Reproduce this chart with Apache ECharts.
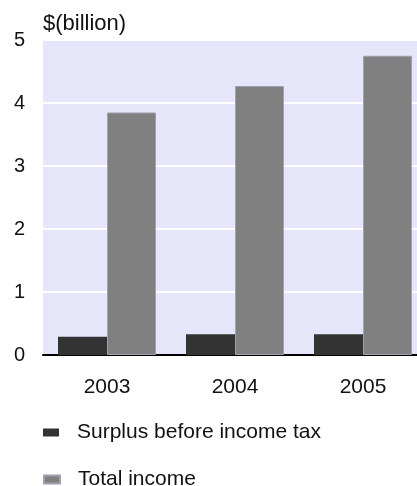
<!DOCTYPE html>
<html>
<head>
<meta charset="utf-8">
<script src="https://cdn.jsdelivr.net/npm/echarts@6/dist/echarts.min.js"></script>
<style>html,body{margin:0;padding:0;background:#fff;}#c{width:417px;height:486px;}</style>
</head>
<body>
<div id="c"></div>
<script>
var categories = ['2003', '2004', '2005'];
var surplus = [0.29, 0.33, 0.33];
var totalIncome = [3.85, 4.27, 4.75];
var yTicks = [0, 1, 2, 3, 4, 5];
var unitLabel = '$(billion)';
var seriesNames = ['Surplus before income tax', 'Total income'];

var font = '"Liberation Sans", Arial, sans-serif';
var legendText = { fontFamily: font, fontSize: 21, color: '#111', padding: [0, 0, 0, 13] };
var chart = echarts.init(document.getElementById('c'));
chart.setOption({
  animation: false,
  backgroundColor: '#ffffff',
  textStyle: { fontFamily: font },
  title: {
    text: unitLabel, left: 38, top: 8,
    textStyle: { fontFamily: font, fontSize: 22, fontWeight: 'normal', color: '#111' }
  },
  grid: { left: 43, top: 40, width: 384, bottom: 131, backgroundColor: '#e6e6fa', show: true, borderWidth: 0,
          containLabel: false, outerBoundsMode: 'none' },
  legend: [
    { orient: 'vertical', left: 38, top: 417, itemWidth: 16, itemHeight: 8, icon: 'rect',
      textStyle: legendText, data: [seriesNames[0]] },
    { orient: 'vertical', left: 38, top: 464, itemWidth: 16, itemHeight: 8, icon: 'rect',
      textStyle: legendText, data: [seriesNames[1]] }
  ],
  xAxis: {
    type: 'category', data: categories,
    axisLine: { lineStyle: { color: '#000', width: 2 } },
    axisTick: { show: false },
    axisLabel: { fontFamily: font, fontSize: 21, color: '#111', margin: 22 }
  },
  yAxis: {
    type: 'value', min: yTicks[0], max: yTicks[yTicks.length - 1], interval: 1,
    axisLine: { show: false }, axisTick: { show: false },
    splitLine: { lineStyle: { color: '#ffffff', width: 2 } },
    axisLabel: { fontFamily: font, fontSize: 20, color: '#111', margin: 18 }
  },
  series: [
    { name: seriesNames[0], type: 'bar', data: surplus, barWidth: 49, barGap: '0%',
      itemStyle: { color: '#333333' } },
    { name: seriesNames[1], type: 'bar', data: totalIncome, barWidth: 49, barGap: '0%',
      itemStyle: { color: '#808080', borderColor: '#a0a0b0', borderWidth: 1 } }
  ]
});
</script>
</body>
</html>
